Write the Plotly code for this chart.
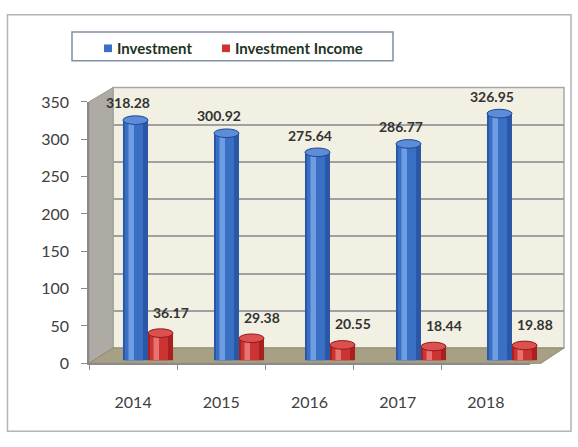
import plotly.graph_objects as go

# ---------------- data ----------------
years = ["2014", "2015", "2016", "2017", "2018"]
investment = [318.28, 300.92, 275.64, 286.77, 326.95]
income = [36.17, 29.38, 20.55, 18.44, 19.88]
y_ticks = [0, 50, 100, 150, 200, 250, 300, 350]
series_names = ["Investment", "Investment Income"]

# ---------------- layout helpers (pixel -> paper) ----------------
W, H = 578, 447
def px(x):
    return x / W
def py(y):
    return 1 - y / H

FONT = "Lato"
# back wall (grid) region
BW_L, BW_R, BW_T, BW_B = 113, 564, 81, 353
# front axis region
FR_L, FR_R, FR_T, FR_B = 89, 530, 96, 369
# bar region
BR_L, BR_R, BR_T, BR_B = 102.5, 557.5, 90, 366
YMAX = 350
scale = (BR_B - BR_T) / YMAX  # px per unit
n = len(years)
catw = (BR_R - BR_L) / n

fig = go.Figure()

# back-wall grid subplot (xy)
fig.add_trace(go.Scatter(x=years, y=[0] * n, mode="markers",
                         marker=dict(opacity=0), hoverinfo="skip",
                         showlegend=False, xaxis="x", yaxis="y"))
# front axes subplot (x2y2)
fig.add_trace(go.Scatter(x=years, y=[0] * n, mode="markers",
                         marker=dict(opacity=0), hoverinfo="skip",
                         showlegend=False, xaxis="x2", yaxis="y2"))

# bars (x3y3), cylinder-like shading
w = 0.275
styles = [
    (investment, -w, ["#2A58A6", "#3A70C4", "#6E9DE4", "#5C8CDA", "#22498C"]),
    (income, 0.0, ["#A82020", "#CC3333", "#E77272", "#DC5050", "#8E1A1A"]),
]
shapes = []
annotations = []
for (vals, off, cols), name in zip(styles, series_names):
    fig.add_trace(go.Bar(x=years, y=vals, width=w, offset=off, name=name,
                         marker=dict(color=cols[0], line_width=0),
                         showlegend=False, hoverinfo="x+y",
                         xaxis="x3", yaxis="y3"))
    fig.add_trace(go.Bar(x=years, y=vals, width=w * 0.72, offset=off + w * 0.08,
                         marker=dict(color=cols[1], line_width=0),
                         showlegend=False, hoverinfo="skip",
                         xaxis="x3", yaxis="y3"))
    fig.add_trace(go.Bar(x=years, y=vals, width=w * 0.22, offset=off + w * 0.22,
                         marker=dict(color=cols[2], line_width=0),
                         showlegend=False, hoverinfo="skip",
                         xaxis="x3", yaxis="y3"))
    hh = 4.5 / scale
    for i, v in enumerate(vals):
        shapes.append(dict(type="circle", xref="x3", yref="y3",
                           x0=i + off, x1=i + off + w, y0=v - hh, y1=v + hh,
                           fillcolor=cols[3], line=dict(color=cols[4], width=1),
                           layer="above"))

# data labels (placed from the same value scale as the bars)
for vals, xs, ys in [(investment, -20, 18), (income, 23, 22)]:
    for i, v in enumerate(vals):
        xp = BR_L + (i + 0.5) * catw + xs
        yp = BR_B - v * scale - ys
        annotations.append(dict(x=px(xp), y=py(yp), xref="paper", yref="paper",
                                text=f"<b>{v:.2f}</b>", showarrow=False,
                                xanchor="center", yanchor="middle",
                                font=dict(family=FONT, size=14, color="#333333")))

# ---------------- background shapes ----------------
bg = []
# outer frame
bg.append(dict(type="rect", xref="paper", yref="paper",
               x0=px(7.5), x1=px(571), y0=py(440), y1=py(5),
               line=dict(color="#B4B4B4", width=1.5), fillcolor="white", layer="below"))
# back wall
bg.append(dict(type="rect", xref="paper", yref="paper",
               x0=px(BW_L), x1=px(BW_R), y0=py(BW_B), y1=py(BW_T),
               line=dict(color="#A8A8A8", width=1.5), fillcolor="#F1F0E3", layer="below"))
# left wall
bg.append(dict(type="path", xref="paper", yref="paper",
               path=(f"M {px(FR_L)} {py(FR_T)} L {px(BW_L)} {py(BW_T)} "
                     f"L {px(BW_L)} {py(BW_B)} L {px(FR_L)} {py(FR_B)} Z"),
               line=dict(color="#9A9890", width=1), fillcolor="#ADABA4", layer="below"))
# floor
bg.append(dict(type="path", xref="paper", yref="paper",
               path=(f"M {px(FR_L)} {py(FR_B)} L {px(BW_L)} {py(BW_B)} "
                     f"L {px(BW_R)} {py(BW_B)} L {px(541)} {py(FR_B)} Z"),
               line=dict(color="#8F8A70", width=1), fillcolor="#A7A084", layer="below"))

# legend box
legend_shapes = [
    dict(type="rect", xref="paper", yref="paper",
         x0=px(72), x1=px(393), y0=py(53), y1=py(23),
         line=dict(color="#8090A8", width=1.5), fillcolor="white", layer="above"),
    dict(type="rect", xref="paper", yref="paper",
         x0=px(104), x1=px(112), y0=py(44), y1=py(36),
         line=dict(width=0), fillcolor="#3A70C4", layer="above"),
    dict(type="rect", xref="paper", yref="paper",
         x0=px(222), x1=px(230), y0=py(44), y1=py(36),
         line=dict(width=0), fillcolor="#CC3333", layer="above"),
]
for name, x in zip(series_names, [115, 233]):
    annotations.append(dict(x=px(x), y=py(40), xref="paper", yref="paper",
                            text=f"<b>{name}</b>", showarrow=False,
                            xanchor="left", yanchor="middle",
                            font=dict(family=FONT, size=15, color="#223322")))

fig.update_layout(
    width=W, height=H,
    margin=dict(l=0, r=0, t=0, b=0),
    paper_bgcolor="white",
    plot_bgcolor="rgba(0,0,0,0)",
    barmode="overlay",
    showlegend=False,
    font=dict(family=FONT, color="#404040"),
    shapes=bg + shapes + legend_shapes,
    annotations=annotations,
    # back wall grid
    xaxis=dict(domain=[px(BW_L), px(BW_R)], anchor="y", visible=False,
               type="category", range=[-0.5, 4.5]),
    yaxis=dict(domain=[py(BW_B), py(BW_T)], anchor="x", range=[0, YMAX],
               tickvals=y_ticks, showgrid=True, gridcolor="#A0A0A0", gridwidth=1.5,
               showticklabels=False, ticks="", zeroline=False, showline=False),
    # front axes
    xaxis2=dict(domain=[px(FR_L), px(FR_R)], anchor="y2", type="category",
                range=[-0.5, 4.5], showline=True, linecolor="#8A8A8A", linewidth=1.5,
                ticks="outside", tickson="boundaries", ticklen=5, tickcolor="#8A8A8A",
                tickfont=dict(family=FONT, size=16, color="#404040"),
                ticklabelstandoff=24, showgrid=False, zeroline=False),
    yaxis2=dict(domain=[py(FR_B), py(FR_T)], anchor="x2", range=[0, YMAX],
                tickvals=y_ticks, showline=True, linecolor="#8A8A8A", linewidth=1.5,
                ticks="outside", ticklen=6, tickcolor="#8A8A8A",
                tickfont=dict(family=FONT, size=16, color="#404040"),
                ticklabelstandoff=9, showgrid=False, zeroline=False),
    # bars
    xaxis3=dict(domain=[px(BR_L), px(BR_R)], anchor="y3", type="category",
                range=[-0.5, 4.5], visible=False),
    yaxis3=dict(domain=[py(BR_B), py(BR_T)], anchor="x3", range=[0, YMAX],
                visible=False),
)

fig.write_html("out.html")
